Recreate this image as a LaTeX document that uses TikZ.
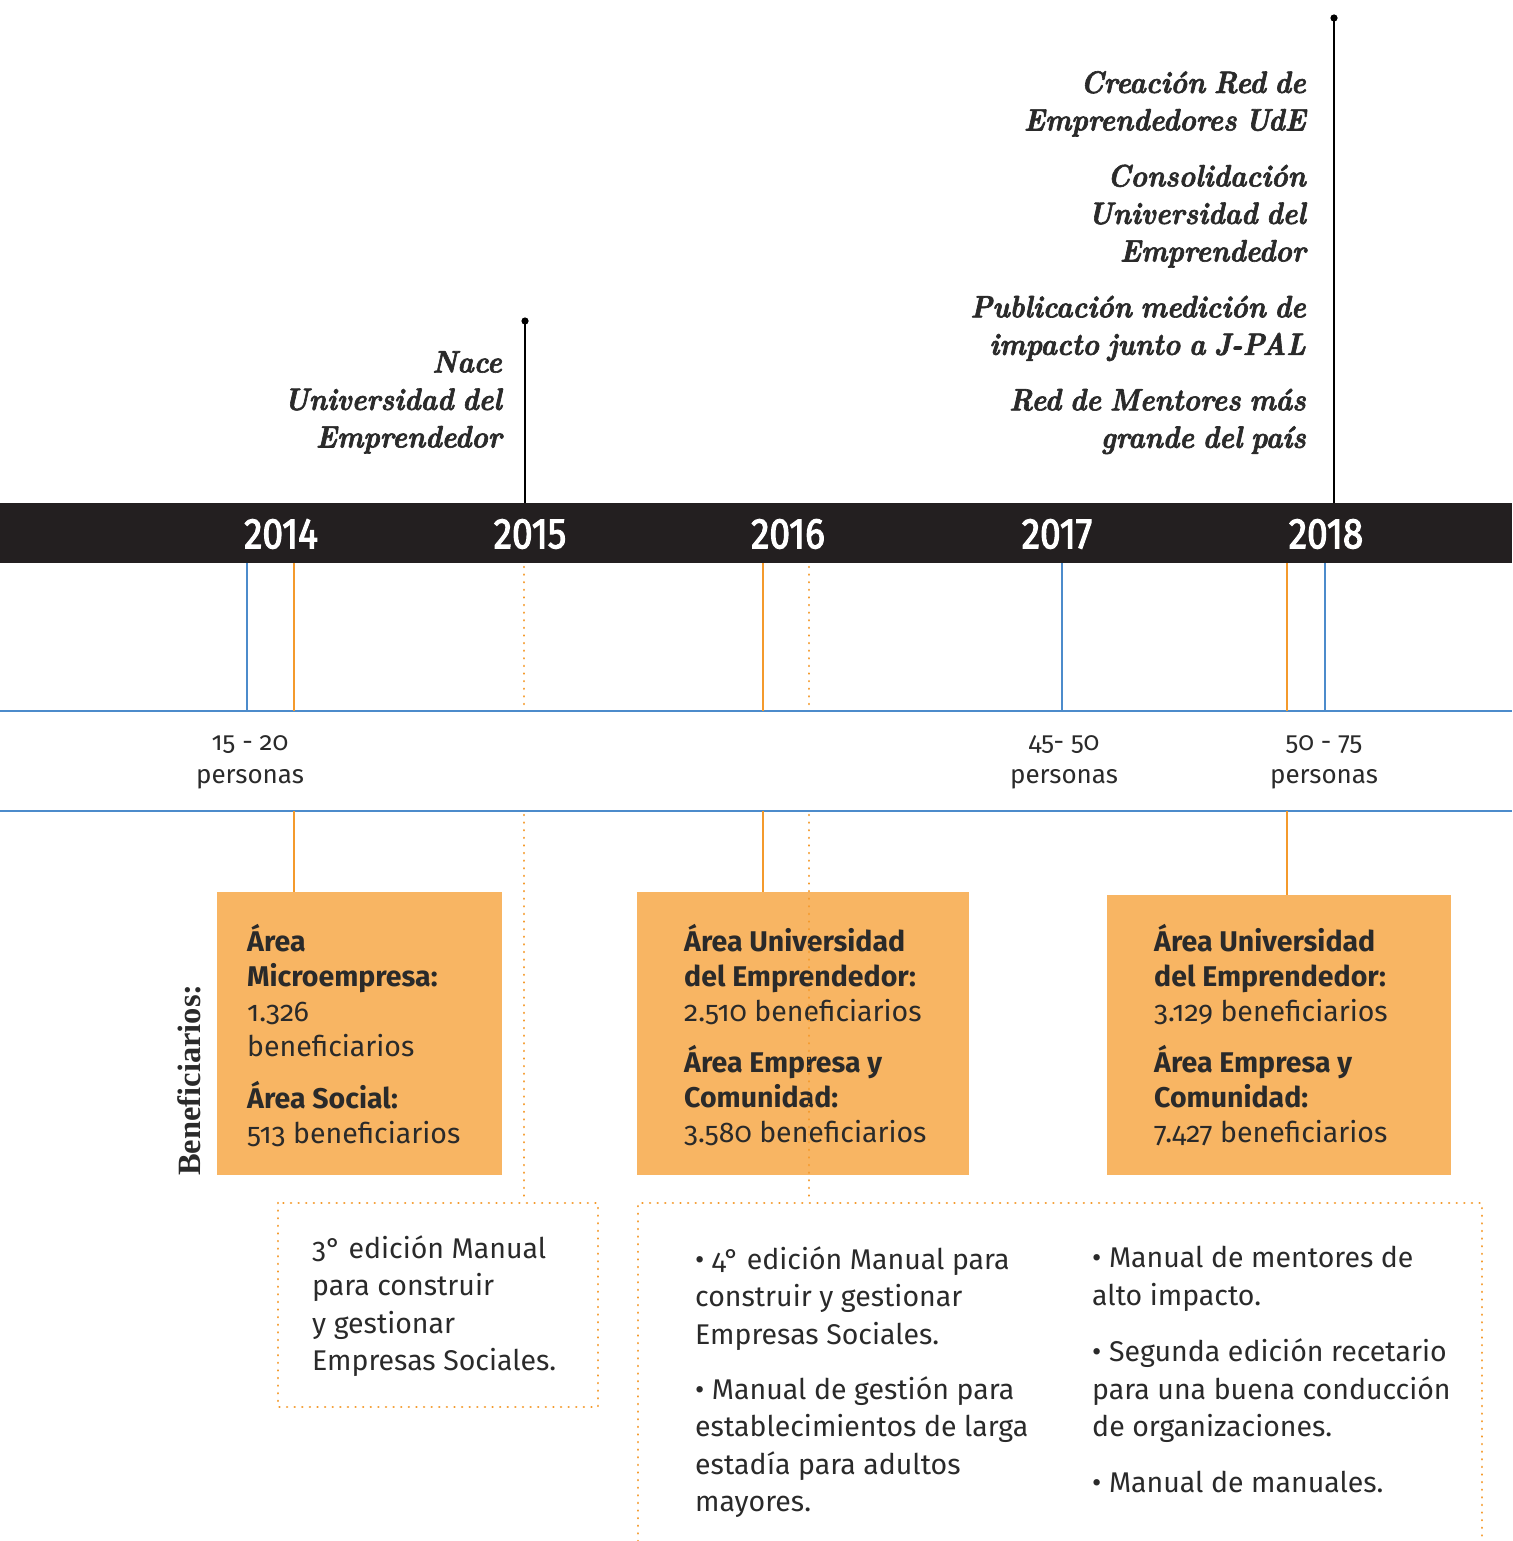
\documentclass[tikz,border=0pt]{standalone}
\usepackage{fontspec}
\newfontfamily\cuerpo[Numbers=OldStyle]{Fira Sans}
\newfontfamily\anio[FakeStretch=0.86, FakeBold=2.5]{Fira Sans}
\newfontfamily\rotulo{Liberation Serif}
\newfontfamily\hitofont[FakeStretch=0.9, WordSpace=0.75, FakeBold=2]{lmroman10-bolditalic.otf}
\definecolor{banda}{HTML}{231F20}
\definecolor{caja}{HTML}{F8B563}
\definecolor{naranja}{HTML}{F49A2C}
\definecolor{azul}{HTML}{4C8BCB}
\definecolor{tinta}{HTML}{2A2A2A}
\begin{document}
\begin{tikzpicture}[x=1pt, y=-1pt,
	anio style/.style={text=white, inner sep=0pt, font=\anio\fontsize{43}{43}\selectfont},
	hito style/.style={align=right, anchor=north east, inner sep=0pt, text=tinta, font=\hitofont\fontsize{31}{37.5}\selectfont},
	caja style/.style={fill=caja, anchor=north west, inner sep=0pt},
	dato style/.style={align=left, anchor=north west, inner sep=0pt, text=tinta, font=\cuerpo\fontsize{28.5}{35}\selectfont},
	nota style/.style={align=left, anchor=north west, inner sep=0pt, text=tinta, font=\cuerpo\fontsize{28.5}{37.5}\selectfont},
	cifra style/.style={align=center, anchor=north, inner sep=0pt, text=tinta, font=\cuerpo\fontsize{26}{33}\selectfont},
	marca/.style={line width=1.3pt, black},
	azul line/.style={azul, line width=2.6pt},
	naranja line/.style={naranja, line width=2.4pt},
	punteado/.style={naranja, line width=2.6pt, line cap=round, dash pattern=on 0.01pt off 7.6pt}]
	\useasboundingbox (0,0) rectangle (1512,1541);
	% banda de anios
	\node[fill=banda, anchor=north west, inner sep=0pt, outer sep=0pt, minimum width=1512pt, minimum height=60pt] (banda) at (0,503) {};
	\node[anio style] (Y1) at (281,534) {2014};
	\node[anio style] (Y2) at (530,534) {2015};
	\node[anio style] (Y3) at (788,534) {2016};
	\node[anio style] (Y4) at (1057,534) {2017};
	\node[anio style] (Y5) at (1326,534) {2018};
	% hitos
	\coordinate (P1) at (525,321);
	\coordinate (P2) at (1334,18);
	\draw[marca] (P1) -- (P1 |- banda.north);
	\draw[marca] (P2) -- (P2 |- banda.north);
	\fill (P1) circle (3.6);
	\fill (P2) circle (3.6);
	\node[hito style] (H0) at (502,351) {Nace\\Universidad del\\Emprendedor};
	\node[hito style] (H1) at (1306,71) {Creación Red de\\Emprendedores UdE};
	\node[hito style] (H2) at (1306,164.5) {Consolidación\\Universidad del\\Emprendedor};
	\node[hito style] (H3) at (1306,295.5) {Publicación medición de\\impacto junto a J-PAL};
	\node[hito style] (H4) at (1306,388.5) {Red de Mentores más\\grande del país};
	% lineas de personas
	\coordinate (L1) at (0,711);
	\coordinate (L2) at (0,811);
	\draw[azul line] (L1) -- (L1 -| banda.east);
	\draw[azul line] (L2) -- (L2 -| banda.east);
	\foreach \x in {247,1062,1325}
		\draw[azul line] (\x,563) -- (\x,711);
	\node[cifra style] (C1) at (250,735) {15 - 20\\personas};
	\node[cifra style] (C2) at (1064,735) {45- 50\\personas};
	\node[cifra style] (C3) at (1324,735) {50 - 75\\personas};
	% cajas de beneficiarios
	\node[caja style, minimum width=285pt, minimum height=283pt] (B1) at (217,892) {};
	\node[caja style, minimum width=332pt, minimum height=283pt] (B2) at (637,892) {};
	\node[caja style, minimum width=344pt, minimum height=280pt] (B3) at (1107,895) {};
	\foreach \x/\t in {294/892, 763/892, 1287/895} {
		\draw[naranja line] (\x,563) -- (\x,711);
		\draw[naranja line] (\x,811) -- (\x,\t);
	}
	\node[rotate=90, inner sep=0pt, text=tinta, font=\rotulo\bfseries\fontsize{32.5}{32.5}\selectfont] (R) at (189,1080) {Beneficiarios:};
	\node[dato style] (T1) at (247,924) {\textbf{Área}\\\textbf{Microempresa:}\\1.326\\beneficiarios\\[17pt]\textbf{Área Social:}\\513 beneficiarios};
	\node[dato style] (T2) at (684,924) {\textbf{Área Universidad}\\\textbf{del Emprendedor:}\\2.510 beneficiarios\\[16pt]\textbf{Área Empresa y}\\\textbf{Comunidad:}\\3.580 beneficiarios};
	\node[dato style] (T3) at (1154,924) {\textbf{Área Universidad}\\\textbf{del Emprendedor:}\\3.129 beneficiarios\\[16pt]\textbf{Área Empresa y}\\\textbf{Comunidad:}\\7.427 beneficiarios};
	% publicaciones
	\foreach \x in {524,809} {
		\draw[punteado] (\x,567) -- (\x,711);
		\draw[punteado] (\x,815) -- (\x,1203);
	}
	\draw[punteado] (278,1203) rectangle (598,1407);
	\draw[punteado] (638,1541) -- (638,1203) -- (1482,1203) -- (1482,1541);
	\node[nota style] (N1) at (312,1235) {3° edición Manual\\para construir\\y gestionar\\Empresas Sociales.};
	\node[nota style] (N2) at (695,1246) {• 4° edición Manual para\\construir y gestionar\\Empresas Sociales.\\[17.5pt]• Manual de gestión para\\establecimientos de larga\\estadía para adultos\\mayores.};
	\node[nota style] (N3) at (1092,1246) {• Manual de mentores de\\alto impacto.\\[19pt]• Segunda edición recetario\\para una buena conducción\\de organizaciones.\\[18pt]• Manual de manuales.};
\end{tikzpicture}
\end{document}
